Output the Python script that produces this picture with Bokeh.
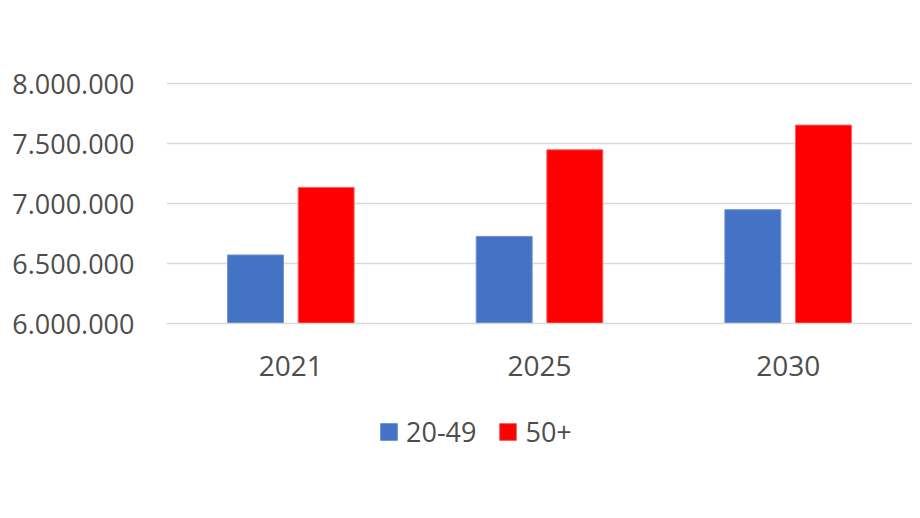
from bokeh.plotting import figure
from bokeh.layouts import column
from bokeh.models import ColumnDataSource, FactorRange, FixedTicker, Legend, LegendItem, Range1d
from bokeh.transform import dodge
from bokeh.embed import file_html
from bokeh.resources import INLINE

years = ["2021", "2025", "2030"]
age_20_49 = [6572000, 6727000, 6950000]
age_50_plus = [7136000, 7450000, 7656000]
series_names = ["20-49", "50+"]
y_ticks = [6000000, 6500000, 7000000, 7500000, 8000000]
y_tick_labels = ["6.000.000", "6.500.000", "7.000.000", "7.500.000", "8.000.000"]

FONT = "Open Sans"
TEXT_COLOR = "#4D4D4D"
GRID_COLOR = "#D9D9D9"
BLUE = "#4472C4"
RED = "#FF0000"

source = ColumnDataSource(data=dict(year=years, a=age_20_49, b=age_50_plus))

p = figure(
    width=912, height=390,
    x_range=FactorRange(factors=years),
    y_range=Range1d(6000000, 8020000),
    output_backend="svg", toolbar_location=None,
    min_border_left=166, min_border_right=0, min_border_top=81, min_border_bottom=67,
)
p.outline_line_color = None
p.background_fill_color = "white"
p.border_fill_color = "white"

r1 = p.vbar(x=dodge("year", -0.142, range=p.x_range), top="a", bottom=6000000, width=0.225,
            source=source, fill_color=BLUE, line_color="#6F93D3", line_width=1)
r2 = p.vbar(x=dodge("year", 0.142, range=p.x_range), top="b", bottom=6000000, width=0.225,
            source=source, fill_color=RED, line_color="#FF6060", line_width=1)

# axes
p.xaxis.axis_line_color = GRID_COLOR
p.xaxis.axis_line_width = 1.5
p.xaxis.major_tick_line_color = None
p.xaxis.minor_tick_line_color = None
p.xaxis.major_label_text_font = FONT
p.xaxis.major_label_text_font_size = "28px"
p.xaxis.major_label_text_color = TEXT_COLOR
p.xaxis.major_label_standoff = 26

p.yaxis.ticker = FixedTicker(ticks=y_ticks)
p.yaxis.major_label_overrides = {t: l for t, l in zip(y_ticks, y_tick_labels)}
p.yaxis.axis_line_color = None
p.yaxis.major_tick_line_color = None
p.yaxis.minor_tick_line_color = None
p.yaxis.major_label_text_font = FONT
p.yaxis.major_label_text_font_size = "27px"
p.yaxis.major_label_text_color = TEXT_COLOR
p.yaxis.major_label_standoff = 26

p.xgrid.grid_line_color = None
p.ygrid.ticker = FixedTicker(ticks=y_ticks)
p.ygrid.grid_line_color = GRID_COLOR
p.ygrid.grid_line_width = 1.5

# legend strip below the chart (its renderers sit outside the visible range)
lf = figure(
    width=912, height=100, x_range=Range1d(0, 1), y_range=Range1d(0, 1),
    output_backend="svg", toolbar_location=None,
    min_border_left=0, min_border_right=0, min_border_top=0, min_border_bottom=0,
)
lf.axis.visible = False
lf.grid.grid_line_color = None
lf.outline_line_color = None
l1 = lf.vbar(x=[-10], top=[-10], bottom=[-11], width=0.1, fill_color=BLUE, line_color="#6F93D3")
l2 = lf.vbar(x=[-10], top=[-10], bottom=[-11], width=0.1, fill_color=RED, line_color="#FF6060")

legend = Legend(
    items=[LegendItem(label=series_names[0], renderers=[l1]),
           LegendItem(label=series_names[1], renderers=[l2])],
    orientation="horizontal",
    location=(212, 40),
    glyph_width=21, glyph_height=21,
    label_text_font=FONT, label_text_font_size="27px", label_text_color=TEXT_COLOR,
    label_standoff=7, spacing=21, padding=0, margin=0,
    border_line_color=None, background_fill_alpha=0,
)
lf.add_layout(legend, "center")

layout = column(p, lf, spacing=0)
open("out.html", "w").write(file_html(layout, INLINE))
